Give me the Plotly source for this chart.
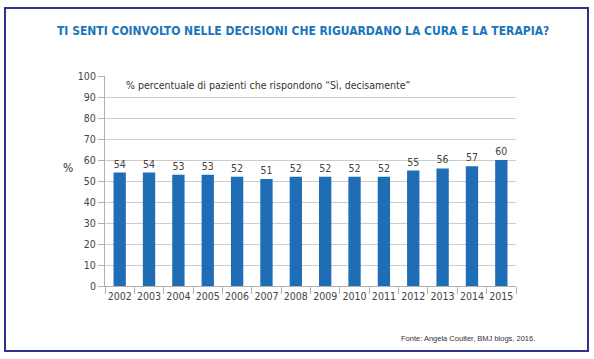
import plotly.graph_objects as go

years = ["2002", "2003", "2004", "2005", "2006", "2007", "2008", "2009",
         "2010", "2011", "2012", "2013", "2014", "2015"]
values = [54, 54, 53, 53, 52, 51, 52, 52, 52, 52, 55, 56, 57, 60]
y_ticks = [0, 10, 20, 30, 40, 50, 60, 70, 80, 90, 100]

title_text = "TI SENTI COINVOLTO NELLE DECISIONI CHE RIGUARDANO LA CURA E LA TERAPIA?"
subtitle_text = "% percentuale di pazienti che rispondono \u201cSì, decisamente\u201d"
source_text = "Fonte: Angela Coulter, BMJ blogs, 2016."

COND = "DejaVu Sans Condensed, Liberation Sans Narrow, sans-serif"
PLAIN = "Liberation Sans, Arial, sans-serif"

W, H = 594, 359
L, R, T, B = 105, 78, 76, 73
PW, PH = W - L - R, H - T - B


def px(x):
    return (x - L) / PW


def py(y):
    return (H - B - y) / PH


fig = go.Figure(go.Bar(
    x=years, y=values,
    marker=dict(color="#1f6db5", line=dict(width=0)),
    width=0.42,
    text=[str(v) for v in values],
    textposition="outside",
    textfont=dict(family=COND, size=10.5, color="#444444"),
    cliponaxis=False,
))

fig.update_layout(
    width=W, height=H,
    margin=dict(l=L, r=R, t=T, b=B),
    paper_bgcolor="white", plot_bgcolor="white",
    showlegend=False,
    xaxis=dict(
        type="category",
        showline=True, linecolor="#b0b0b0", linewidth=1,
        ticks="outside", tickson="boundaries", ticklen=7, tickcolor="#b0b0b0",
        tickangle=0,
        tickfont=dict(family=COND, size=10.5, color="#444444"),
        showgrid=False,
    ),
    yaxis=dict(
        range=[0, 100], tickvals=y_ticks,
        showline=True, linecolor="#b0b0b0", linewidth=1,
        ticks="outside", ticklen=6, tickcolor="#b0b0b0",
        tickfont=dict(family=COND, size=10.5, color="#444444"),
        showgrid=True, gridcolor="#cccccc", gridwidth=1,
        zeroline=False,
    ),
    shapes=[dict(
        type="rect", xref="paper", yref="paper",
        x0=px(5), x1=px(588), y0=py(351), y1=py(8),
        line=dict(color="#2e3192", width=2), fillcolor="rgba(0,0,0,0)",
        layer="above",
    )],
    annotations=[
        dict(text="<b>" + title_text + "</b>", xref="paper", yref="paper",
             x=px(303), y=py(31), showarrow=False, xanchor="center", yanchor="middle",
             font=dict(family=COND, size=12, color="#1b75bc")),
        dict(text=subtitle_text, xref="paper", yref="paper",
             x=px(124), y=py(85), showarrow=False, xanchor="left", yanchor="middle",
             font=dict(family=COND, size=10.5, color="#333333")),
        dict(text="%", xref="paper", yref="paper",
             x=px(68), y=py(168), showarrow=False, xanchor="center", yanchor="middle",
             font=dict(family=COND, size=12, color="#333333")),
        dict(text=source_text, xref="paper", yref="paper",
             x=px(537), y=py(338), showarrow=False, xanchor="right", yanchor="middle",
             font=dict(family=PLAIN, size=7.5, color="#333333")),
    ],
)

fig.write_html("out.html", config={"displayModeBar": False},
               post_script="document.body.style.margin='0';")
